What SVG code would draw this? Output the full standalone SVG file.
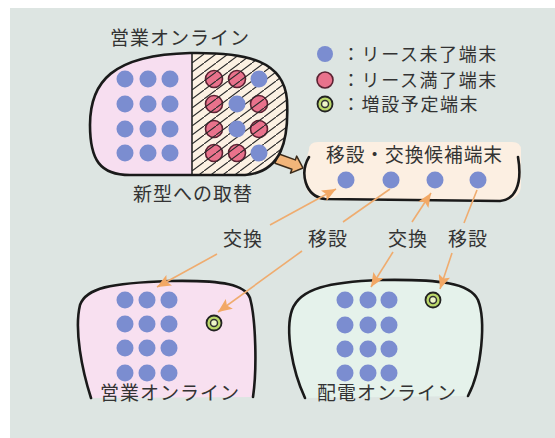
<svg xmlns="http://www.w3.org/2000/svg" width="555" height="438" viewBox="0 0 555 438">
<style>
text{font-family:"Noto Sans CJK JP","Noto Sans CJK SC",sans-serif;font-size:19px;letter-spacing:1px;fill:#333}
.leg{font-size:18px;letter-spacing:1.6px}
.blue{fill:#7b8dd0}
.red{fill:#e9728c;stroke:#5a2232;stroke-width:1.6}
.outline{fill:none;stroke:#1a1a1a;stroke-width:2.6;stroke-linecap:round}
.conn{fill:none;stroke:#efac6f;stroke-width:1.6}
.ring{fill:#bcd96a;stroke:#222;stroke-width:1.8}
.ringin{fill:#eef6c8;stroke:#333;stroke-width:1.5}
</style>
<defs>
<marker id="ah" markerUnits="userSpaceOnUse" markerWidth="16" markerHeight="12" refX="14" refY="6" orient="auto">
<path d="M0,0 L14,6 L0,12 L3,6 Z" fill="#f2a865"/>
</marker>
<pattern id="hatch" patternUnits="userSpaceOnUse" width="12" height="9">
<line x1="-1" y1="9.75" x2="13" y2="-0.75" stroke="#2a2a2a" stroke-width="1.1"/>
</pattern>
<clipPath id="topClip">
<path d="M190 53 C250 52 284 62 287 100 C289 140 282 172 245 175 L130 175 C100 175 90 160 90 125 C90 82 112 55 190 53 Z"/>
</clipPath>
<g id="ringsym">
<circle r="7.5" class="ring"/>
<circle r="3.5" class="ringin"/>
</g>
</defs>

<rect x="0" y="0" width="555" height="438" fill="#ffffff"/>
<rect x="10" y="8" width="545" height="430" fill="#dde5e2"/>

<g id="replace-arrow">
<polygon points="275,163.2 278.4,153.8 295.3,159.9 296.7,156.1 303,168 290.5,173.1 291.9,169.3" fill="#f2b57a" stroke="#3a2a1a" stroke-width="1.5" stroke-linejoin="round"/>
</g>

<g id="top-online">
<g clip-path="url(#topClip)">
<rect x="88" y="50" width="104" height="130" fill="#f7def0"/>
<rect x="192" y="50" width="100" height="130" fill="#fcf1e3"/>
<circle cx="214" cy="79" r="8.5" class="red"/>
<circle cx="237" cy="79" r="8.5" class="red"/>
<circle cx="214" cy="104" r="8.5" class="red"/>
<circle cx="259" cy="104" r="8.5" class="red"/>
<circle cx="214" cy="129" r="8.5" class="red"/>
<circle cx="259" cy="129" r="8.5" class="red"/>
<circle cx="214" cy="153" r="8.5" class="red"/>
<circle cx="237" cy="153" r="8.5" class="red"/>
<rect x="192" y="50" width="100" height="130" fill="url(#hatch)"/>
<circle cx="259" cy="79" r="8.5" class="blue"/>
<circle cx="237" cy="104" r="8.5" class="blue"/>
<circle cx="237" cy="129" r="8.5" class="blue"/>
<circle cx="259" cy="153" r="8.5" class="blue"/>
<line x1="192" y1="50" x2="192" y2="180" stroke="#222" stroke-width="1.6"/>
</g>
<g>
<circle cx="125" cy="79" r="8.5" class="blue"/><circle cx="148" cy="79" r="8.5" class="blue"/><circle cx="170" cy="79" r="8.5" class="blue"/>
<circle cx="125" cy="104" r="8.5" class="blue"/><circle cx="148" cy="104" r="8.5" class="blue"/><circle cx="170" cy="104" r="8.5" class="blue"/>
<circle cx="125" cy="129" r="8.5" class="blue"/><circle cx="148" cy="129" r="8.5" class="blue"/><circle cx="170" cy="129" r="8.5" class="blue"/>
<circle cx="125" cy="153" r="8.5" class="blue"/><circle cx="148" cy="153" r="8.5" class="blue"/><circle cx="170" cy="153" r="8.5" class="blue"/>
</g>
<path class="outline" d="M190 53 C250 52 284 62 287 100 C289 140 282 172 245 175 L130 175 C100 175 90 160 90 125 C90 82 112 55 190 53 Z"/>
<text x="110" y="45">営業オンライン</text>
<text x="133" y="201">新型への取替</text>
</g>

<g id="legend">
<circle cx="325" cy="54" r="8" class="blue"/>
<text class="leg" x="342" y="61">：リース未了端末</text>
<circle cx="325" cy="80" r="8" class="red"/>
<text class="leg" x="342" y="87">：リース満了端末</text>
<use href="#ringsym" x="325" y="104"/>
<text class="leg" x="342" y="111">：増設予定端末</text>
</g>

<g id="candidates">
<path d="M309 150 Q309 142 318 142 L512 142 Q521 142 521 150 L521 185 C521 196 512 201 500 201 L325 200 C310 199 303 190 303 170 Z" fill="#fcefe2"/>
<path class="outline" d="M309 157 C300 172 304 196 325 199 L500 201 C514 200 523 186 518 157"/>
<text x="326" y="162" textLength="177" lengthAdjust="spacingAndGlyphs">移設・交換候補端末</text>
<circle cx="346" cy="180" r="8.5" class="blue"/>
<circle cx="391" cy="180" r="8.5" class="blue"/>
<circle cx="435" cy="180" r="8.5" class="blue"/>
<circle cx="478" cy="180" r="8.5" class="blue"/>
</g>

<g id="sales-online">
<path d="M91 398 C82 370 74 330 80 305 C86 288 110 283 170 281 C225 280 245 285 250 298 C256 320 257 370 253 397 Z" fill="#f8e0f0"/>
<path class="outline" d="M91 398 C82 370 74 330 80 305 C86 288 110 283 170 281 C225 280 245 285 250 298 C256 320 257 370 253 397"/>
<circle cx="125" cy="300" r="8.5" class="blue"/><circle cx="147" cy="300" r="8.5" class="blue"/><circle cx="169" cy="300" r="8.5" class="blue"/>
<circle cx="125" cy="324" r="8.5" class="blue"/><circle cx="147" cy="324" r="8.5" class="blue"/><circle cx="169" cy="324" r="8.5" class="blue"/>
<circle cx="125" cy="348" r="8.5" class="blue"/><circle cx="147" cy="348" r="8.5" class="blue"/><circle cx="169" cy="348" r="8.5" class="blue"/>
<circle cx="125" cy="373" r="8.5" class="blue"/><circle cx="147" cy="373" r="8.5" class="blue"/><circle cx="169" cy="373" r="8.5" class="blue"/>
<use href="#ringsym" x="214" y="323"/>
<text x="100" y="400">営業オンライン</text>
</g>

<g id="distribution-online">
<path d="M305 398 C292 370 285 330 292 310 C300 288 330 282 380 280 C440 279 470 283 478 300 C486 320 482 370 468 396 Z" fill="#e5f2eb"/>
<path class="outline" d="M305 398 C292 370 285 330 292 310 C300 288 330 282 380 280 C440 279 470 283 478 300 C486 320 482 370 468 396"/>
<circle cx="345" cy="300" r="8.5" class="blue"/><circle cx="368" cy="300" r="8.5" class="blue"/><circle cx="389" cy="300" r="8.5" class="blue"/>
<circle cx="345" cy="325" r="8.5" class="blue"/><circle cx="368" cy="325" r="8.5" class="blue"/><circle cx="389" cy="325" r="8.5" class="blue"/>
<circle cx="345" cy="349" r="8.5" class="blue"/><circle cx="368" cy="349" r="8.5" class="blue"/><circle cx="389" cy="349" r="8.5" class="blue"/>
<circle cx="345" cy="373" r="8.5" class="blue"/><circle cx="368" cy="373" r="8.5" class="blue"/><circle cx="389" cy="373" r="8.5" class="blue"/>
<use href="#ringsym" x="433" y="300"/>
<text x="317" y="400">配電オンライン</text>
</g>

<g id="connectors">
<line class="conn" x1="270" y1="225" x2="336" y2="189" marker-end="url(#ah)"/>
<line class="conn" x1="217" y1="254" x2="157" y2="287" marker-end="url(#ah)"/>
<line class="conn" x1="390" y1="189" x2="343" y2="222"/>
<line class="conn" x1="302" y1="251" x2="218" y2="312" marker-end="url(#ah)"/>
<line class="conn" x1="412" y1="222" x2="431" y2="193" marker-end="url(#ah)"/>
<line class="conn" x1="393" y1="252" x2="371" y2="287" marker-end="url(#ah)"/>
<line class="conn" x1="477" y1="190" x2="464" y2="223"/>
<line class="conn" x1="452" y1="253" x2="440" y2="289" marker-end="url(#ah)"/>
</g>

<g id="connector-labels">
<text x="223" y="246">交換</text>
<text x="308" y="246">移設</text>
<text x="388" y="246">交換</text>
<text x="448" y="246">移設</text>
</g>
</svg>
